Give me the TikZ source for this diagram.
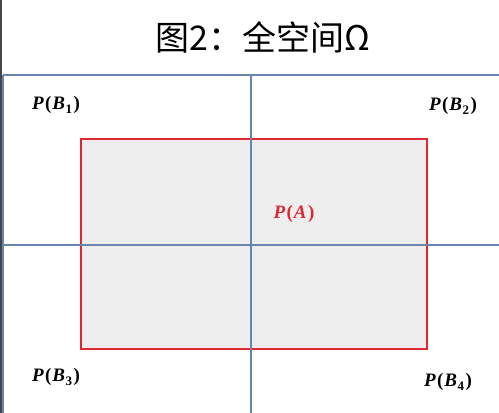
\documentclass[tikz,border=0pt]{standalone}
\usepackage{fontspec}
\newfontfamily\cjk{Noto Sans CJK SC}
\newfontfamily\lblfont{Liberation Serif}
\newcommand{\lsub}[1]{\kern0.5pt\raisebox{-0.4ex}{\fontsize{13}{13}\selectfont\upshape #1}}
\newcommand{\plab}[1]{\lblfont\bfseries\itshape P\kern1.5pt{\upshape(}\kern1pt#1\kern1.5pt{\upshape)}}
\definecolor{gridblue}{RGB}{104,134,172}
\definecolor{rectred}{RGB}{222,40,52}
\definecolor{rectfill}{RGB}{238,238,238}
\definecolor{edgegray}{RGB}{70,70,70}
\begin{document}
\begin{tikzpicture}[x=1pt,y=-1pt,
  gridline/.style={draw=gridblue,line width=2pt},
  plabel/.style={font=\fontsize{19}{21}\selectfont,inner sep=0pt}]
\useasboundingbox (0,0) rectangle (499,413);
\fill[white] (0,0) rectangle (499,413);
% red rectangle event A
\draw[rectred,fill=rectfill,line width=1.6pt] (81,139) rectangle (427,349);
% grid
\coordinate (tl) at (3,75);
\coordinate (tr) at (499,75);
\coordinate (bl) at (3,413);
\coordinate (mt) at (251,75);
\coordinate (mb) at (251,413);
\coordinate (ml) at (3,245);
\coordinate (mr) at (499,245);
\draw[gridline] (tl) -- (tr);
\draw[gridline] (tl) -- (bl);
\draw[gridline] (mt) -- (mb);
\draw[gridline] (ml) -- (mr);
% left dark edge
\draw[edgegray,line width=1.5pt] (0.75,0) -- (0.75,413);
% title
\node[font=\cjk\fontsize{34}{36}\selectfont,inner sep=0pt] (title) at (263,37) {图2：全空间Ω};
% labels
\node[plabel] (b1) at (56,105) {\plab{B\lsub{1}}};
\node[plabel] (b2) at (453,106) {\plab{B\lsub{2}}};
\node[plabel,text=rectred] (a) at (294,214) {\plab{A}};
\node[plabel] (b3) at (56,377) {\plab{B\lsub{3}}};
\node[plabel] (b4) at (448,382) {\plab{B\lsub{4}}};
\end{tikzpicture}
\end{document}
